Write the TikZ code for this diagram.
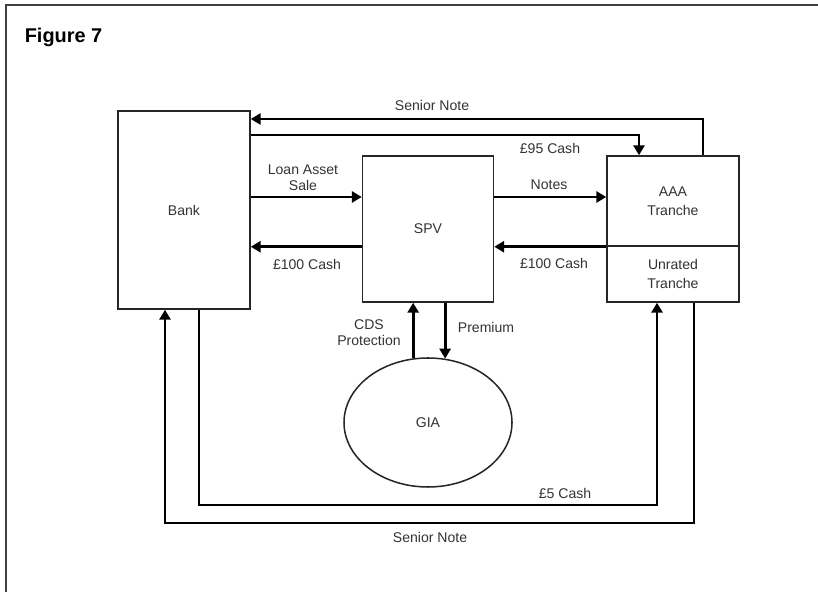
\documentclass[tikz,border=0pt]{standalone}
\usepackage{fontspec}
\setmainfont{Liberation Sans}
\usetikzlibrary{arrows.meta, shapes.geometric}

\begin{document}
\begin{tikzpicture}[
    bx/.style={draw=black!85, line width=1.3pt, fill=white, text centered,
               align=center, text=black!80, inner sep=0pt,
               font=\fontsize{12}{16}\selectfont},
    fw/.style={-{Triangle[length=8.5pt, width=9.5pt]}, line width=2.5pt},
    ln/.style={line width=2.5pt},
    lbl/.style={align=center, text=black!80, inner sep=1pt,
                font=\fontsize{12}{13.7}\selectfont}
  ]
  \useasboundingbox (0,0) rectangle (24.54,17.76);
  \draw[black!75, line width=1.3pt] (0.18,0) -- (0.18,17.61) -- (24.54,17.61);
  \node[anchor=west, font=\bfseries\fontsize{17}{20}\selectfont] (title) at (0.62,16.65) {Figure 7};

  \node[bx, minimum width=3.96cm, minimum height=5.94cm] (bank) at (5.52, 11.46) {Bank};
  \node[bx, minimum width=3.93cm, minimum height=4.38cm] (spv)  at (12.84, 10.89) {SPV};
  \node[bx, minimum width=3.96cm, minimum height=2.70cm] (aaa)  at (20.19, 11.73) {AAA\\Tranche};
  \node[bx, minimum width=3.96cm, minimum height=1.68cm] (unr)  at (20.19, 9.54) {Unrated\\Tranche};
  \node[bx, ellipse, minimum width=5.04cm, minimum height=3.87cm] (gia) at (12.84, 5.085) {GIA};

  \coordinate (sntop) at (21.09, 14.19);
  \coordinate (c95)   at (19.17, 13.71);
  \coordinate (hi)    at (0, 11.85);
  \coordinate (c5a)   at (5.97, 2.61);
  \coordinate (c5b)   at (19.71, 2.61);
  \coordinate (snb)   at (20.82, 2.07);
  \coordinate (sna)   at (4.95, 2.07);

  \draw[fw] (aaa.north -| sntop) -- (sntop) -- (bank.east |- sntop);
  \draw[fw] (bank.east |- c95) -- (c95) -- (aaa.north -| c95);
  \draw[fw] (bank.east |- hi) -- (spv.west |- hi);
  \draw[fw] (spv.west |- aaa.south west) -- (bank.east |- aaa.south west);
  \draw[fw] (spv.east |- hi) -- (aaa.west |- hi);
  \draw[fw] (aaa.south west) -- (spv.east |- aaa.south west);
  \draw[fw] (gia.103) -- (spv.south -| gia.103);
  \draw[fw] (spv.south -| gia.75) -- (gia.75);
  \draw[fw] (bank.south -| c5a) -- (c5a) -- (c5b) -- (unr.south -| c5b);
  \draw[fw] (unr.south -| snb) -- (snb) -- (sna) -- (bank.south -| sna);

  \node[lbl] (sntxt)  at (12.96, 14.61) {Senior Note};
  \node[lbl] (c95txt) at (16.50, 13.32) {£95 Cash};
  \node[lbl] (loan)   at (9.09, 12.42)  {Loan Asset\\Sale};
  \node[lbl] (c100l)  at (9.21, 9.84)   {£100 Cash};
  \node[lbl] (notes)  at (16.47, 12.21) {Notes};
  \node[lbl] (c100r)  at (16.62, 9.87)  {£100 Cash};
  \node[lbl] (cds)    at (11.07, 7.77)  {CDS\\Protection};
  \node[lbl] (prem)   at (14.58, 7.95)  {Premium};
  \node[lbl] (c5txt)  at (16.95, 2.97)  {£5 Cash};
  \node[lbl] (snbtxt) at (12.90, 1.65)  {Senior Note};
\end{tikzpicture}
\end{document}
